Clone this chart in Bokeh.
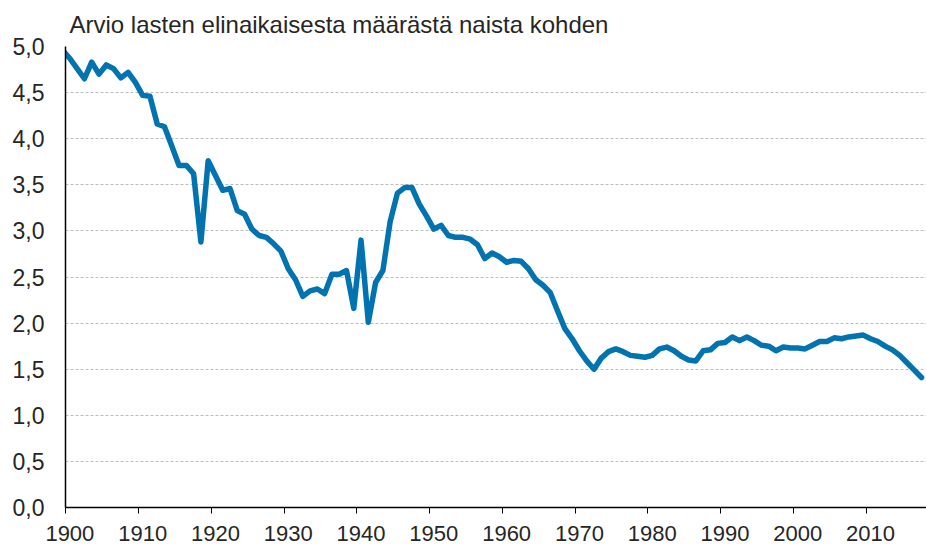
from bokeh.plotting import figure
from bokeh.models import FixedTicker, Range1d
from bokeh.embed import file_html
from bokeh.resources import INLINE

# ---- data ----
years = list(range(1900, 2019))
tfr = [
    4.96, 4.87, 4.76, 4.65, 4.83, 4.70, 4.80, 4.76, 4.66, 4.72,   # 1900-1909
    4.61, 4.47, 4.46, 4.16, 4.13, 3.92, 3.71, 3.71, 3.62, 2.88,   # 1910-1919
    3.76, 3.60, 3.44, 3.46, 3.22, 3.18, 3.02, 2.95, 2.93, 2.86,   # 1920-1929
    2.78, 2.59, 2.47, 2.29, 2.35, 2.37, 2.32, 2.53, 2.53, 2.57,   # 1930-1939
    2.16, 2.90, 2.01, 2.44, 2.57, 3.10, 3.41, 3.47, 3.47, 3.29,   # 1940-1949
    3.16, 3.02, 3.06, 2.95, 2.93, 2.93, 2.91, 2.85, 2.70, 2.76,   # 1950-1959
    2.72, 2.66, 2.68, 2.67, 2.59, 2.47, 2.41, 2.33, 2.13, 1.94,   # 1960-1969
    1.83, 1.70, 1.59, 1.50, 1.62, 1.69, 1.72, 1.69, 1.65, 1.64,   # 1970-1979
    1.63, 1.65, 1.72, 1.74, 1.70, 1.64, 1.60, 1.59, 1.70, 1.71,   # 1980-1989
    1.78, 1.79, 1.85, 1.81, 1.85, 1.81, 1.76, 1.75, 1.70, 1.74,   # 1990-1999
    1.73, 1.73, 1.72, 1.76, 1.80, 1.80, 1.84, 1.83, 1.85, 1.86,   # 2000-2009
    1.87, 1.83, 1.80, 1.75, 1.71, 1.65, 1.57, 1.49, 1.41,         # 2010-2018
]
x_tick_years = [1900, 1910, 1920, 1930, 1940, 1950, 1960, 1970, 1980, 1990, 2000, 2010]
y_ticks = [0.0, 0.5, 1.0, 1.5, 2.0, 2.5, 3.0, 3.5, 4.0, 4.5, 5.0]
title_text = "Arvio  lasten elinaikaisesta määrästä naista kohden"

FONT = "Liberation Sans"
TXT = "#262626"

p = figure(width=926, height=547, output_backend="svg", toolbar_location=None,
           x_range=Range1d(1900.4, 2018.68), y_range=Range1d(0, 5.0),
           min_border_left=65, min_border_right=0, min_border_top=46, min_border_bottom=40)
p.outline_line_color = None
p.background_fill_color = "white"
p.border_fill_color = "white"

p.title.text = title_text
p.title.text_font = FONT
p.title.text_font_size = "24px"
p.title.text_font_style = "normal"
p.title.text_color = TXT
p.title.align = "left"
p.title.offset = 4
p.title.standoff = 17

p.line(years, tfr, line_color="#0073B0", line_width=5.5, line_join="round", line_cap="round")

# x axis: labels centred over the category, tick marks at category edges
xt = FixedTicker(ticks=[y + 1 for y in x_tick_years], minor_ticks=[y + 0.42 for y in x_tick_years])
p.xaxis.ticker = xt
p.xaxis.major_label_overrides = {y + 1: str(y) for y in x_tick_years}
p.xaxis.major_tick_out = 0
p.xaxis.major_tick_in = 0
p.xaxis.minor_tick_out = 6
p.xaxis.minor_tick_in = 0
p.xaxis.minor_tick_line_color = "black"
p.xaxis.axis_line_color = "black"
p.xaxis.axis_line_width = 1.5
p.xaxis.major_label_text_font = FONT
p.xaxis.major_label_text_font_size = "22px"
p.xaxis.major_label_text_color = TXT
p.xaxis.major_label_standoff = 12

p.yaxis.ticker = FixedTicker(ticks=y_ticks)
p.yaxis.major_label_overrides = {v: f"{v:.1f}".replace(".", ",") for v in y_ticks}
p.yaxis.major_tick_out = 0
p.yaxis.major_tick_in = 0
p.yaxis.minor_tick_out = 0
p.yaxis.minor_tick_in = 0
p.yaxis.axis_line_color = "black"
p.yaxis.axis_line_width = 1.5
p.yaxis.major_label_text_font = FONT
p.yaxis.major_label_text_font_size = "23px"
p.yaxis.major_label_text_color = TXT
p.yaxis.major_label_standoff = 21

p.xgrid.visible = False
p.ygrid.ticker = FixedTicker(ticks=y_ticks)
p.ygrid.grid_line_color = "#BDBDBD"
p.ygrid.grid_line_dash = "3 2"
p.ygrid.grid_line_width = 1

open("out.html", "w").write(file_html(p, INLINE))
